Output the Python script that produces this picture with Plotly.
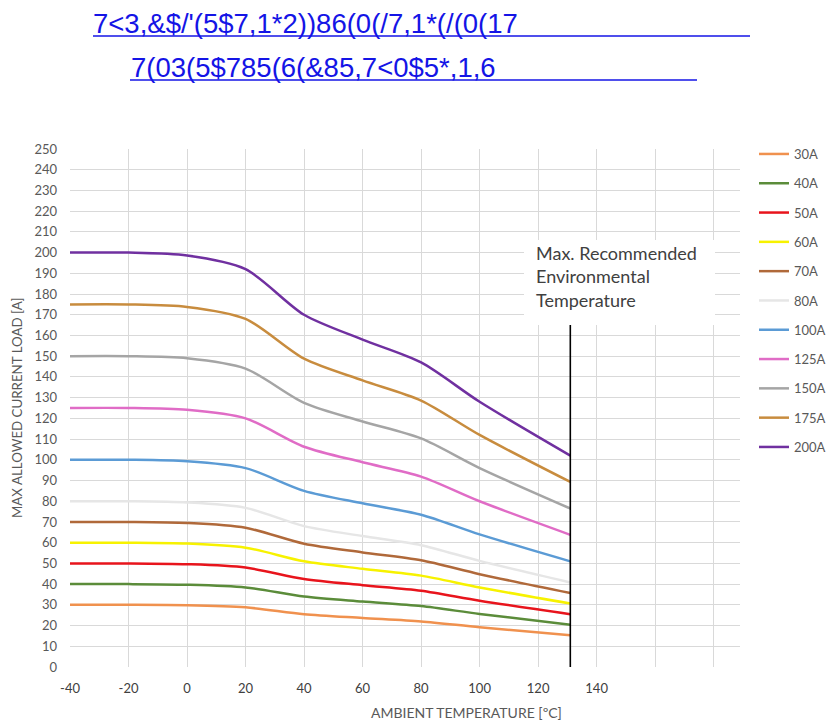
import plotly.graph_objects as go

# ---------------- data ----------------
temps = [-40, -20, 0, 20, 40, 60, 80, 100, 131]
series_names = ["30A", "40A", "50A", "60A", "70A", "80A", "100A", "125A", "150A", "175A", "200A"]
load_30A = [30, 30, 29.8, 28.8, 25.5, 23.7, 22.0, 19.2, 15.3]
load_40A = [40, 40, 39.7, 38.4, 34.0, 31.6, 29.4, 25.6, 20.4]
load_50A = [50, 50, 49.6, 48.0, 42.5, 39.5, 36.8, 32.0, 25.5]
load_60A = [60, 60, 59.6, 57.6, 51.0, 47.4, 44.1, 38.4, 30.6]
load_70A = [70, 70, 69.5, 67.2, 59.5, 55.3, 51.5, 44.8, 35.7]
load_80A = [80, 80, 79.4, 76.8, 68.0, 63.2, 58.8, 51.2, 40.8]
load_100A = [100, 100, 99.3, 96.0, 85.0, 79.0, 73.5, 64.0, 51.0]
load_125A = [125, 125, 124.1, 120.0, 106.3, 98.8, 91.9, 80.0, 63.8]
load_150A = [150, 150, 149.0, 144.0, 127.5, 118.5, 110.3, 96.0, 76.5]
load_175A = [175, 175, 173.8, 168.0, 148.8, 138.3, 128.6, 112.0, 89.3]
load_200A = [200, 200, 198.6, 192.0, 170.0, 158.0, 147.0, 128.0, 102.0]
all_loads = [load_30A, load_40A, load_50A, load_60A, load_70A, load_80A,
             load_100A, load_125A, load_150A, load_175A, load_200A]

x_tickvals = [-40, -20, 0, 20, 40, 60, 80, 100, 120, 140, 160, 180]
x_ticktext = ["-40", "-20", "0", "20", "40", "60", "80", "100", "120", "140", "", ""]
y_tickvals = list(range(0, 251, 10))

max_temp = 131
max_line_y = [0, 165]

title_line1 = "7<3,&$/'(5$7,1*2))86(0(/7,1*(/(0(17"
title_line2 = "7(03(5$785(6(&85,7<0$5*,1,6"
note_text = "Max. Recommended<br>Environmental<br>Temperature"

# ---------------- style ----------------
colors = ["#F0914E", "#5B8C3A", "#E8141C", "#F7F200", "#B0693A", "#E6E6E6",
          "#5B9BD5", "#E06CC6", "#A5A5A5", "#C88C3E", "#7030A0"]
FONT = "Lato, Carlito, Calibri, 'Open Sans', sans-serif"
GRAY = "#595959"

W, H = 829, 726
L, R, T, B = 70, 89, 149, 59
PW, PH = W - L - R, H - T - B


def px_x(px):
    return (px - L) / PW


def px_y(py):
    return (H - B - py) / PH


fig = go.Figure()
for i, (name, vals) in enumerate(zip(series_names, all_loads)):
    fig.add_trace(go.Scatter(
        x=temps, y=vals, name=name, mode="lines",
        line=dict(color=colors[i], width=2.5, shape="spline", smoothing=0.8),
        legendgroup=name, hoverinfo="x+y+name"))

fig.add_trace(go.Scatter(
    x=[max_temp, max_temp], y=max_line_y, mode="lines",
    line=dict(color="black", width=1.6), showlegend=False, hoverinfo="skip"))

fig.update_layout(
    width=W, height=H,
    margin=dict(l=L, r=R, t=T, b=B, autoexpand=False),
    paper_bgcolor="white", plot_bgcolor="white",
    font=dict(family=FONT, color=GRAY, size=13),
    showlegend=True,
    legend=dict(xref="container", yref="container", x=754 / W, y=1 - 139 / H,
                xanchor="left", yanchor="top",
                font=dict(family=FONT, size=13, color=GRAY),
                tracegroupgap=9.4, bgcolor="rgba(0,0,0,0)", traceorder="grouped"),
    xaxis=dict(range=[-40, 189], tickvals=x_tickvals, ticktext=x_ticktext, automargin=False,
               showgrid=True, gridcolor="#D9D9D9", gridwidth=1, zeroline=False,
               showline=False, ticks="", ticklabelstandoff=12,
               tickfont=dict(family=FONT, size=13, color="#404040")),
    yaxis=dict(range=[0, 250], tickvals=y_tickvals, automargin=False,
               showgrid=True, gridcolor="#D9D9D9", gridwidth=1, zeroline=False,
               showline=False, ticks="", ticklabelstandoff=12,
               tickfont=dict(family=FONT, size=13, color=GRAY)),
)

TITLE_FONT = "'Liberation Sans', Arial, sans-serif"
BLUE = "#1414E6"
fig.add_annotation(xref="paper", yref="paper", x=px_x(92), y=px_y(23),
                   xanchor="left", yanchor="middle", showarrow=False, text=title_line1,
                   borderpad=0, font=dict(family=TITLE_FONT, size=27.5, color=BLUE))
fig.add_annotation(xref="paper", yref="paper", x=px_x(130), y=px_y(67),
                   xanchor="left", yanchor="middle", showarrow=False, text=title_line2,
                   borderpad=0, font=dict(family=TITLE_FONT, size=27.5, color=BLUE))
fig.add_shape(type="line", xref="paper", yref="paper",
              x0=px_x(93), x1=px_x(750), y0=px_y(36), y1=px_y(36),
              line=dict(color=BLUE, width=1.5))
fig.add_shape(type="line", xref="paper", yref="paper",
              x0=px_x(130), x1=px_x(697), y0=px_y(80), y1=px_y(80),
              line=dict(color=BLUE, width=1.5))

# white box for the note
fig.add_shape(type="rect", xref="paper", yref="paper",
              x0=px_x(524), x1=px_x(715), y0=px_y(325), y1=px_y(240),
              fillcolor="white", line=dict(width=0), layer="above")
fig.add_annotation(xref="paper", yref="paper", x=px_x(534), y=px_y(276),
                   xanchor="left", yanchor="middle", align="left", showarrow=False,
                   text=note_text, font=dict(family=FONT, size=18, color="#404040"))

# axis titles
fig.add_annotation(xref="paper", yref="paper", x=px_x(467), y=px_y(712),
                   xanchor="center", yanchor="middle", showarrow=False,
                   text="AMBIENT TEMPERATURE [ºC]", font=dict(family=FONT, size=14, color=GRAY))
fig.add_annotation(xref="paper", yref="paper", x=px_x(17), y=0.5,
                   xanchor="center", yanchor="middle", showarrow=False, textangle=-90,
                   text="MAX ALLOWED CURRENT LOAD [A]", font=dict(family=FONT, size=13.3, color=GRAY))

fig.write_html("out.html", config={"displayModeBar": False},
               post_script="document.body.style.margin='0px';document.body.style.padding='0px';")
